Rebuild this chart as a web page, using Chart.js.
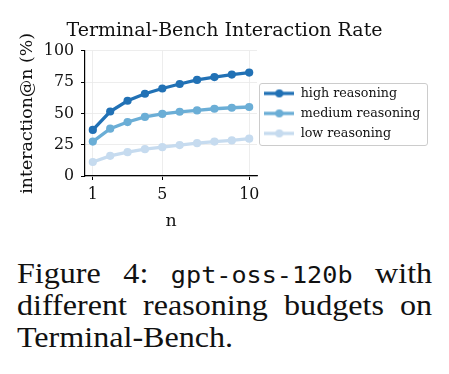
<!DOCTYPE html>
<html><head><meta charset="utf-8">
<script src="https://cdn.jsdelivr.net/npm/chart.js@4.4.0/dist/chart.umd.min.js"></script>
<style>
html,body{margin:0;padding:0;background:#fff;width:449px;height:374px;overflow:hidden}
#wrap{position:absolute;left:0;top:0;width:449px;height:240px}
.cap{position:absolute;left:17px;width:388px;height:32px;line-height:32px;font-family:"Liberation Serif",serif;font-size:30px;color:#111;transform:scaleX(1.07);transform-origin:0 0}
.just{text-align:justify;text-align-last:justify}
.mono{font-family:"DejaVu Sans Mono",monospace;font-size:23.5px}
</style></head><body>
<div id="wrap"><canvas id="c" width="449" height="240"></canvas></div>
<div class="cap just" style="top:257px">Figure 4: <span class="mono">gpt-oss-120b</span> with</div>
<div class="cap just" style="top:289px">different reasoning budgets on</div>
<div class="cap" style="top:321px">Terminal-Bench.</div>
<script>
const nValues = [1, 2, 3, 4, 5, 6, 7, 8, 9, 10];
const highReasoning = [36.8, 51.5, 60.1, 65.7, 69.9, 73.5, 76.7, 79.0, 81.0, 82.6];
const mediumReasoning = [27.5, 37.8, 43.1, 47.2, 49.6, 51.3, 52.4, 53.7, 54.5, 55.1];
const lowReasoning = [11.2, 16.1, 19.0, 21.4, 23.0, 24.7, 26.2, 27.5, 28.4, 29.8];
const seriesLabels = ['high reasoning', 'medium reasoning', 'low reasoning'];
const seriesColors = ['#2171b5', '#6baed6', '#c6dbef'];
const xTicks = [1, 5, 10];
const yTicks = [0, 25, 50, 75, 100];
const chartTitle = 'Terminal-Bench Interaction Rate';
const xTitle = 'n';
const yTitle = 'interaction@n (%)';

const FONT = 'DejaVu Serif';
const PLOT_RIGHT = 257;
function toPoints(vals) { return nValues.map((n, i) => ({x: n, y: vals[i]})); }
function markerImage(color) {
  const c = document.createElement('canvas');
  c.width = 30; c.height = 12;
  const g = c.getContext('2d');
  g.strokeStyle = color; g.lineWidth = 3.3;
  g.beginPath(); g.moveTo(0, 6); g.lineTo(30, 6); g.stroke();
  g.fillStyle = color; g.beginPath(); g.arc(15, 6, 4, 0, Math.PI * 2); g.fill();
  return c;
}
const markers = seriesColors.map(markerImage);
const seriesData = [highReasoning, mediumReasoning, lowReasoning];

const legendFrame = {
  id: 'legendFrame',
  afterDraw(chart) {
    const lg = chart.legend;
    if (!lg || !lg.legendHitBoxes || !lg.legendHitBoxes.length) return;
    let x0 = Infinity, x1 = -Infinity, y0 = Infinity, y1 = -Infinity;
    lg.legendHitBoxes.forEach(h => {
      x0 = Math.min(x0, h.left); x1 = Math.max(x1, h.left + h.width);
      y0 = Math.min(y0, h.top); y1 = Math.max(y1, h.top + h.height);
    });
    const ctx = chart.ctx;
    ctx.save();
    ctx.strokeStyle = '#cccccc'; ctx.lineWidth = 1;
    ctx.beginPath();
    ctx.roundRect(Math.round(x0 - 5.3) + 0.5, Math.round(y0 - 4.2) + 0.5, Math.round(x1 - x0 + 12.3), Math.round(y1 - y0 + 9.4), 2.5);
    ctx.stroke();
    ctx.restore();
  }
};

const chart = new Chart(document.getElementById('c'), {
  type: 'line',
  data: {
    datasets: seriesData.map((vals, i) => ({
      label: seriesLabels[i],
      data: toPoints(vals),
      borderColor: seriesColors[i],
      backgroundColor: seriesColors[i],
      pointBackgroundColor: seriesColors[i],
      pointBorderWidth: 0,
      pointRadius: 4.1,
      borderWidth: 3.3,
      tension: 0,
      fill: false
    }))
  },
  options: {
    responsive: false,
    animation: false,
    devicePixelRatio: 1,
    layout: {padding: 0},
    plugins: {
      title: {
        display: true, text: chartTitle, color: '#111',
        font: {family: FONT, size: 19, weight: 'normal'},
        padding: {top: 19.5, bottom: 8.5}
      },
      legend: {
        position: 'right', fullSize: false, maxWidth: 300,
        labels: {
          usePointStyle: true, pointStyleWidth: 30, padding: 7.3, color: '#111',
          font: {family: FONT, size: 12.7},
          generateLabels(ch) {
            const items = Chart.defaults.plugins.legend.labels.generateLabels(ch);
            items.forEach((it, i) => { it.pointStyle = markers[i]; });
            return items;
          }
        }
      },
      tooltip: {enabled: false}
    },
    scales: {
      x: {
        type: 'linear', min: 0.55, max: 10.45,
        afterBuildTicks(s) { s.ticks = xTicks.map(v => ({value: v})); },
        afterFit(s) { s.height = 64; },
        ticks: {color: '#111', font: {family: FONT, size: 15.8}, padding: 5, maxRotation: 0},
        grid: {color: '#e8e8e8', lineWidth: 0.8, tickColor: '#000', tickLength: 4, tickWidth: 1},
        border: {color: '#000', width: 1.2},
        title: {display: true, text: xTitle, color: '#111', font: {family: FONT, size: 17.4}, padding: {top: 0, bottom: 8}}
      },
      y: {
        min: 0, max: 100,
        afterBuildTicks(s) { s.ticks = yTicks.map(v => ({value: v})); },
        afterFit(s) { s.width = 85; },
        ticks: {color: '#111', font: {family: FONT, size: 15.8}, padding: 7},
        grid: {color: '#e8e8e8', lineWidth: 0.8, tickColor: '#000', tickLength: 4, tickWidth: 1},
        border: {color: '#000', width: 1.2},
        title: {display: true, text: yTitle, color: '#111', font: {family: FONT, size: 17.4}, padding: {top: 17, bottom: 0}}
      }
    }
  },
  plugins: [legendFrame]
});
// make the legend box fill the space right of the plot area
const lg = chart.legend;
const origFit = lg.fit;
lg.fit = function () { origFit.call(this); this.width = this.chart.width - PLOT_RIGHT; };
chart.update('none');
</script>
</body></html>
